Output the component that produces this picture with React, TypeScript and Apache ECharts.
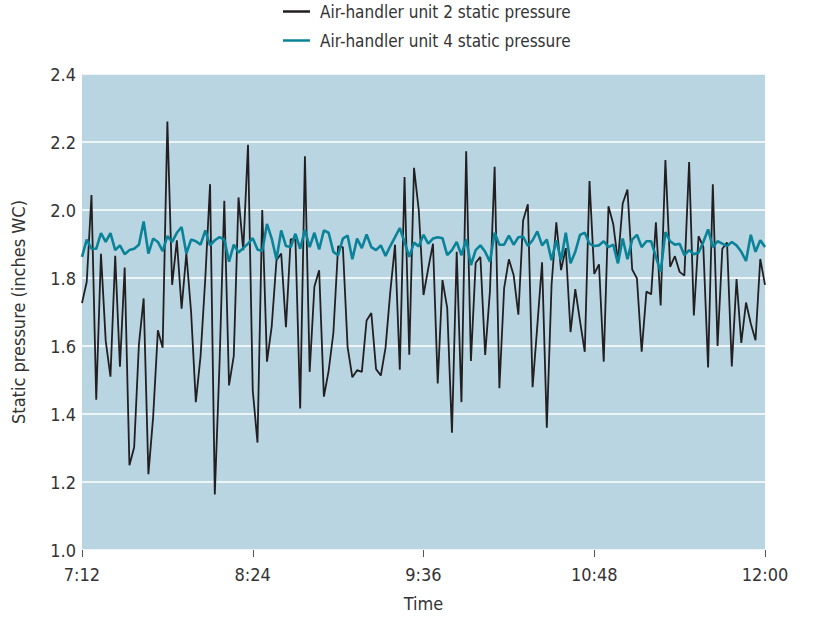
import React, { useEffect, useRef } from "react";
import * as echarts from "echarts";

const startLabel = "7:12";
const stepMinutes = 2;
const xTickMinutes = [0, 72, 144, 216, 288];
const yTicks = [1.0, 1.2, 1.4, 1.6, 1.8, 2.0, 2.2, 2.4];
const seriesNames = ["Air-handler unit 2 static pressure", "Air-handler unit 4 static pressure"];

const unit2 = [
  1.726, 1.789, 2.044, 1.442, 1.871, 1.615, 1.51, 1.865, 1.539, 1.831,
  1.249, 1.302, 1.605, 1.74, 1.223, 1.391, 1.646, 1.595, 2.26, 1.78,
  1.911, 1.71, 1.872, 1.7, 1.435, 1.571, 1.8, 2.076, 1.163, 1.55,
  2.027, 1.484, 1.571, 2.037, 1.882, 2.192, 1.469, 1.316, 2.0, 1.554,
  1.658, 1.852, 1.872, 1.655, 1.914, 1.913, 1.416, 2.158, 1.524, 1.775,
  1.823, 1.451, 1.527, 1.639, 1.893, 1.891, 1.597, 1.508, 1.529, 1.524,
  1.675, 1.697, 1.532, 1.513, 1.595, 1.76, 1.898, 1.53, 2.097, 1.574,
  2.124, 2.0, 1.75, 1.828, 1.901, 1.49, 1.794, 1.712, 1.345, 1.877,
  1.435, 2.173, 1.556, 1.845, 1.862, 1.574, 1.76, 2.127, 1.476, 1.77,
  1.855, 1.809, 1.692, 1.969, 2.017, 1.479, 1.66, 1.846, 1.36, 1.78,
  1.964, 1.823, 1.888, 1.641, 1.767, 1.673, 1.583, 2.085, 1.812, 1.84,
  1.554, 2.011, 1.959, 1.848, 2.019, 2.06, 1.825, 1.799, 1.583, 1.76,
  1.752, 1.964, 1.719, 2.147, 1.833, 1.864, 1.818, 1.807, 2.141, 1.69,
  1.923, 1.891, 1.537, 2.076, 1.6, 1.886, 1.904, 1.54, 1.797, 1.609,
  1.728, 1.666, 1.617, 1.856, 1.78,
];

const unit4 = [
  1.862, 1.913, 1.886, 1.886, 1.932, 1.906, 1.932, 1.882, 1.896, 1.87,
  1.882, 1.886, 1.898, 1.966, 1.872, 1.916, 1.906, 1.879, 1.923, 1.906,
  1.933, 1.95, 1.872, 1.913, 1.908, 1.898, 1.94, 1.896, 1.911, 1.92,
  1.913, 1.848, 1.898, 1.875, 1.888, 1.901, 1.917, 1.884, 1.879, 1.959,
  1.916, 1.855, 1.94, 1.894, 1.891, 1.93, 1.886, 1.942, 1.891, 1.933,
  1.884, 1.94, 1.933, 1.877, 1.867, 1.916, 1.925, 1.855, 1.916, 1.888,
  1.928, 1.891, 1.882, 1.896, 1.865, 1.894, 1.92, 1.947, 1.906, 1.862,
  1.904, 1.893, 1.927, 1.901, 1.916, 1.92, 1.917, 1.867, 1.882, 1.906,
  1.867, 1.914, 1.838, 1.882, 1.896, 1.877, 1.848, 1.933, 1.898, 1.898,
  1.925, 1.898, 1.92, 1.922, 1.894, 1.911, 1.937, 1.896, 1.913, 1.852,
  1.911, 1.852, 1.933, 1.843, 1.877, 1.927, 1.933, 1.901, 1.894, 1.896,
  1.908, 1.891, 1.898, 1.843, 1.916, 1.855, 1.913, 1.927, 1.891, 1.908,
  1.908, 1.862, 1.818, 1.935, 1.908, 1.898, 1.901, 1.867, 1.882, 1.87,
  1.875, 1.906, 1.943, 1.891, 1.908, 1.901, 1.894, 1.906, 1.896, 1.877,
  1.85, 1.927, 1.877, 1.911, 1.891,
];

const FONT = "'Liberation Sans Narrow', 'DejaVu Sans Condensed', 'Roboto', sans-serif";
const TEXT = "#333333";

function minuteLabel(m: number): string {
  const [h0, m0] = startLabel.split(":").map(Number);
  const total = h0 * 60 + m0 + m;
  const h = Math.floor(total / 60);
  const mm = total % 60;
  return `${h}:${mm < 10 ? "0" + mm : mm}`;
}

export default function App() {
  const ref = useRef<HTMLDivElement>(null);
  useEffect(() => {
    document.body.style.margin = "0";
    const chart = echarts.init(ref.current!, undefined, { renderer: "svg" });
    const toPairs = (arr: number[]) => arr.map((v, i) => [i * stepMinutes, v]);
    chart.setOption({
      animation: false,
      backgroundColor: "#ffffff",
      textStyle: { fontFamily: FONT },
      legend: {
        orient: "vertical",
        left: 278,
        top: -2,
        icon: "rect",
        itemWidth: 27,
        itemHeight: 2.5,
        itemGap: 12,
        textStyle: { fontFamily: FONT, fontSize: 17, color: TEXT, padding: [0, 0, 0, 5] },
        data: seriesNames,
      },
      grid: {
        left: 82,
        right: 49,
        top: 74,
        bottom: 63,
        show: true,
        backgroundColor: "#b8d5e1",
        borderWidth: 0,
      },
      xAxis: {
        type: "value",
        min: xTickMinutes[0],
        max: xTickMinutes[xTickMinutes.length - 1],
        interval: xTickMinutes[1] - xTickMinutes[0],
        name: "Time",
        nameLocation: "middle",
        nameGap: 44,
        nameTextStyle: { fontFamily: FONT, fontSize: 18, color: TEXT },
        axisLine: { show: false },
        axisTick: { show: true, length: 7, lineStyle: { color: "#555", width: 1 } },
        axisLabel: {
          margin: 15,
          fontFamily: FONT,
          fontSize: 18,
          color: TEXT,
          formatter: (v: number) => minuteLabel(v),
        },
        splitLine: { show: false },
      },
      yAxis: {
        type: "value",
        min: yTicks[0],
        max: yTicks[yTicks.length - 1],
        interval: 0.2,
        name: "Static pressure (inches WC)",
        nameLocation: "middle",
        nameGap: 55,
        nameTextStyle: { fontFamily: FONT, fontSize: 18, color: TEXT },
        axisLine: { show: false },
        axisTick: { show: false },
        axisLabel: {
          margin: 6,
          fontFamily: FONT,
          fontSize: 18,
          color: TEXT,
          formatter: (v: number) => v.toFixed(1),
        },
        splitLine: { show: true, lineStyle: { color: "#ffffff", width: 1.5 } },
      },
      series: [
        {
          name: seriesNames[0],
          type: "line",
          data: toPairs(unit2),
          symbol: "none",
          lineStyle: { color: "#231f20", width: 1.8 },
          itemStyle: { color: "#231f20" },
        },
        {
          name: seriesNames[1],
          type: "line",
          data: toPairs(unit4),
          symbol: "none",
          lineStyle: { color: "#0a8399", width: 2.6 },
          itemStyle: { color: "#0a8399" },
        },
      ],
    });
    return () => chart.dispose();
  }, []);
  return (
    <div
      ref={ref}
      style={{ position: "fixed", left: 0, top: 0, width: 814, height: 617 }}
    />
  );
}
